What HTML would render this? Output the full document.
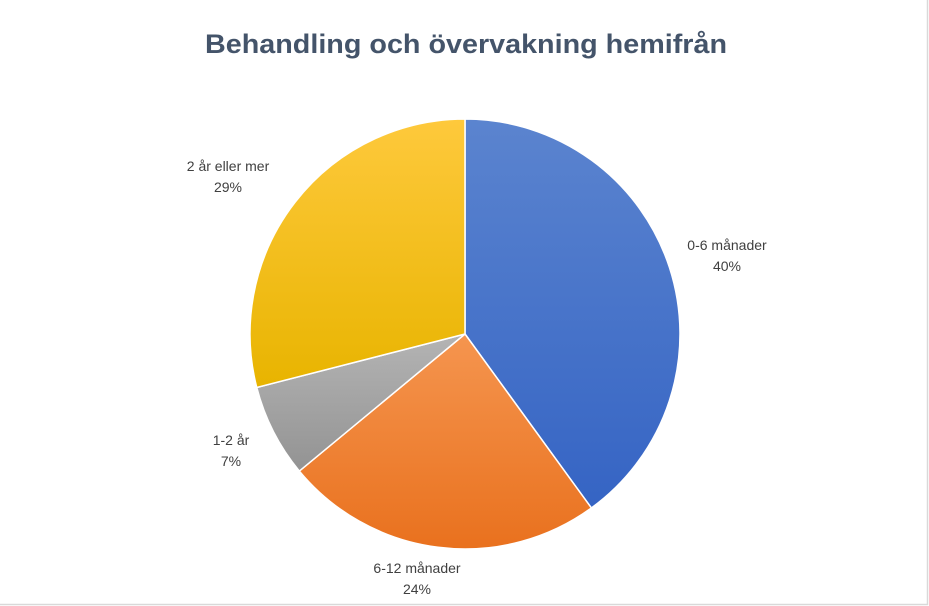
<!DOCTYPE html>
<html><head><meta charset="utf-8"><style>
html,body{margin:0;padding:0;background:#fff;}
svg{display:block;font-family:"Liberation Sans",sans-serif;}
</style></head><body>
<svg width="929" height="606" viewBox="0 0 929 606">
<defs>
<linearGradient id="g0" x1="0" y1="0" x2="0" y2="1"><stop offset="0" stop-color="#5b84cf"/><stop offset="1" stop-color="#3564c4"/></linearGradient>
<linearGradient id="g1" x1="0" y1="0" x2="0" y2="1"><stop offset="0" stop-color="#f5954f"/><stop offset="1" stop-color="#e9711e"/></linearGradient>
<linearGradient id="g2" x1="0" y1="0" x2="0" y2="1"><stop offset="0" stop-color="#b4b4b4"/><stop offset="1" stop-color="#939393"/></linearGradient>
<linearGradient id="g3" x1="0" y1="0" x2="0" y2="1"><stop offset="0" stop-color="#fec93c"/><stop offset="1" stop-color="#e8b400"/></linearGradient>
</defs>
<rect x="0" y="0" width="929" height="606" fill="#fff"/>
<rect x="-1" y="-1" width="928.5" height="605.5" fill="none" stroke="#d9d9d9" stroke-width="1.5"/>
<text x="466" y="53" text-anchor="middle" font-size="27" font-weight="bold" fill="#44546a" textLength="522" lengthAdjust="spacingAndGlyphs">Behandling och övervakning hemifrån</text>
<g id="slices"></g>
<g id="labels" font-size="14" fill="#404040"></g>
</svg>
<script>
const categories = ["0-6 månader","6-12 månader","1-2 år","2 år eller  mer"];
const values = [40,24,7,29];
const valueLabels = ["40%","24%","7%","29%"];
const fills = ["url(#g0)","url(#g1)","url(#g2)","url(#g3)"];
const labelPos = [[727,250],[417,573],[231,445],[228,171]];
const cx=465, cy=334, r=215;
const ns="http://www.w3.org/2000/svg";
const total=values.reduce((a,b)=>a+b,0);
let a0=-Math.PI/2;
const sg=document.getElementById('slices'), lg=document.getElementById('labels');
values.forEach((v,i)=>{
  const a1=a0+v/total*2*Math.PI;
  const x0=cx+r*Math.cos(a0), y0=cy+r*Math.sin(a0), x1=cx+r*Math.cos(a1), y1=cy+r*Math.sin(a1);
  const p=document.createElementNS(ns,'path');
  p.setAttribute('d',`M${cx},${cy}L${x0},${y0}A${r},${r} 0 ${a1-a0>Math.PI?1:0} 1 ${x1},${y1}Z`);
  p.setAttribute('fill',fills[i]);p.setAttribute('stroke','#fff');p.setAttribute('stroke-width','1.5');
  
  
  sg.appendChild(p);
  const t=document.createElementNS(ns,'text');
  t.setAttribute('text-anchor','middle');
  
  
  const s1=document.createElementNS(ns,'tspan');s1.setAttribute('x',labelPos[i][0]);s1.setAttribute('y',labelPos[i][1]);s1.textContent=categories[i];
  const s2=document.createElementNS(ns,'tspan');s2.setAttribute('x',labelPos[i][0]);s2.setAttribute('y',labelPos[i][1]+21);s2.textContent=valueLabels[i];
  t.appendChild(s1);t.appendChild(s2);lg.appendChild(t);
  a0=a1;
});
</script>
</body></html>
